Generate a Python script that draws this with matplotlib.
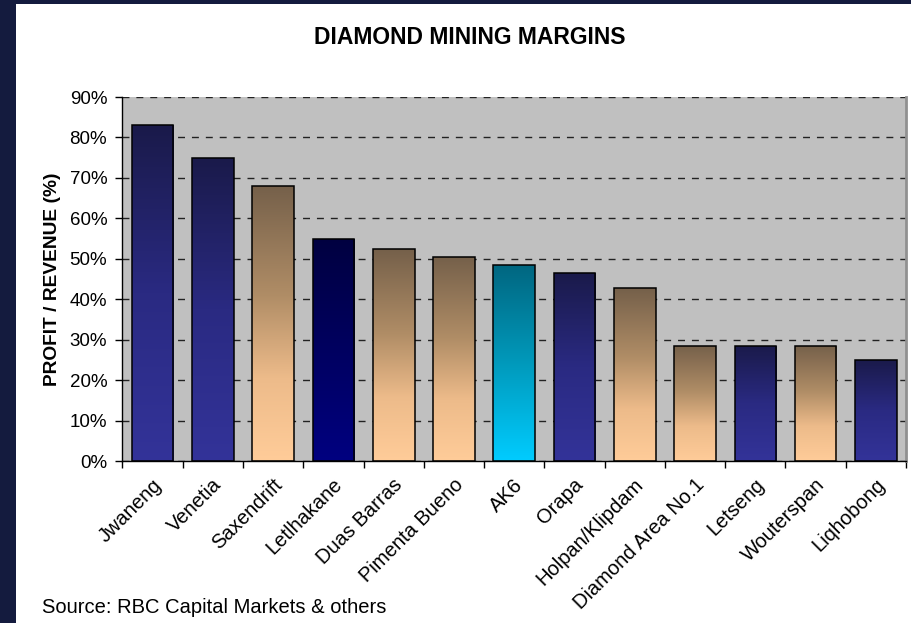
import matplotlib
matplotlib.use('Agg')
import matplotlib.pyplot as plt
import matplotlib.transforms as mtransforms
import numpy as np
from matplotlib.colors import LinearSegmentedColormap
from matplotlib.patches import Rectangle

plt.rcParams['font.family'] = ['Liberation Sans', 'DejaVu Sans']

# data
mines = ['Jwaneng', 'Venetia', 'Saxendrift', 'Letlhakane', 'Duas Barras',
         'Pimenta Bueno', 'AK6', 'Orapa', 'Holpan/Klipdam', 'Diamond Area No.1',
         'Letseng', 'Wouterspan', 'Liqhobong']
margins = [83, 75, 68, 55, 52.3, 50.5, 48.5, 46.6, 42.7, 28.5, 28.5, 28.5, 25]
styles = ['navy', 'navy', 'tan', 'dark', 'tan', 'tan', 'cyan', 'navy', 'tan',
          'tan', 'navy', 'tan', 'navy']
y_ticks = [0, 10, 20, 30, 40, 50, 60, 70, 80, 90]

# gradients, bottom colour first
cmaps = {
    'navy': LinearSegmentedColormap.from_list('navy', ['#333399', '#2a2a82', '#1a1a4a']),
    'dark': LinearSegmentedColormap.from_list('dark', ['#000080', '#000060', '#000040']),
    'cyan': LinearSegmentedColormap.from_list('cyan', ['#00ccff', '#0099bb', '#006680']),
    'tan': LinearSegmentedColormap.from_list(
        'tan', [(0.0, '#ffcc99'), (0.3, '#edbb8a'), (0.6, '#b08d66'), (1.0, '#75604a')]),
}

fig = plt.figure(figsize=(9.12, 6.23), dpi=100, facecolor='#141b3e')
# white slide panel behind everything
fig.patches.append(Rectangle((16 / 912, 0), 1, 1 - 4 / 623, transform=fig.transFigure,
                             facecolor='white', edgecolor='none', zorder=-10))

ax = fig.add_axes([122.5 / 912, 162 / 623, 783.5 / 912, 364 / 623])
ax.set_facecolor('#c0c0c0')

x = np.arange(len(mines))
bars = ax.bar(x, margins, width=0.69, facecolor='none', edgecolor='black',
              linewidth=1.1, zorder=3)

grad = np.linspace(0, 1, 256).reshape(-1, 1)
for bar, st in zip(bars, styles):
    bx, by = bar.get_x(), bar.get_y()
    bw, bh = bar.get_width(), bar.get_height()
    im = ax.imshow(grad, extent=[bx, bx + bw, by, by + bh], origin='lower',
                   aspect='auto', cmap=cmaps[st], zorder=2, interpolation='bilinear')
    im.set_clip_path(bar)

ax.set_xlim(-0.5, len(mines) - 0.5)
ax.set_ylim(0, 90)

ax.set_yticks(y_ticks)
ax.set_yticklabels([f'{v}%' for v in y_ticks])
ax.yaxis.grid(True, color='#222222', linestyle=(0, (5, 5)), linewidth=1.0, zorder=1)
ax.set_axisbelow(True)
ax.tick_params(axis='y', direction='out', length=5, width=1, labelsize=13.5, pad=6)

ax.set_xticks(x)
ax.set_xticklabels(mines, rotation=45, ha='right', va='center', rotation_mode='anchor')
ax.tick_params(axis='x', which='major', length=0, labelsize=14.5, pad=15)
ax.set_xticks(np.arange(len(mines) + 1) - 0.5, minor=True)
ax.tick_params(axis='x', which='minor', direction='out', length=5, width=1)

# nudge the slanted labels a little to the right
shift = mtransforms.ScaledTranslation(6 / 100, 0, fig.dpi_scale_trans)
for lbl in ax.get_xticklabels():
    lbl.set_transform(lbl.get_transform() + shift)

ax.spines['top'].set_visible(False)
ax.spines['right'].set_color('#909090')
ax.spines['right'].set_linewidth(2)
ax.spines['left'].set_linewidth(1)
ax.spines['bottom'].set_linewidth(1)

fig.text(0.515, 0.94, 'DIAMOND MINING MARGINS', ha='center', va='center',
         fontsize=16.5, fontweight='bold')
fig.text(53 / 912, 0.552, 'PROFIT / REVENUE (%)', rotation=90, ha='center',
         va='center', fontsize=13.8, fontweight='bold')
fig.text(42 / 912, 10 / 623, 'Source: RBC Capital Markets & others', ha='left',
         va='baseline', fontsize=14.5)

fig.savefig('out.png', dpi=100, facecolor=fig.get_facecolor())
